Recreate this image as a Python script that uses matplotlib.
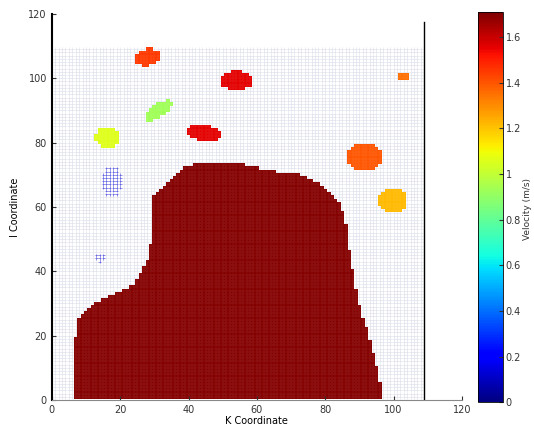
import numpy as np
import matplotlib
matplotlib.use('Agg')
import matplotlib.pyplot as plt
from matplotlib.path import Path

# computational grid (K, I node counts)
k_nodes = np.arange(1, 109)
i_nodes = np.arange(1, 110)

# outline of the main high-velocity zone (K, I)
main_k = [6, 6.4, 8.2, 14, 19.9, 24.3, 28, 29.2, 29.2, 33, 38.9, 43.3, 55, 62.3,
          72.5, 78.4, 83.6, 85.7, 87, 89.5, 93, 96, 96.8]
main_i = [0.5, 17, 26, 31, 33.5, 36, 43.5, 50, 62, 67, 72, 73.6, 73.6, 71.4,
          70, 67, 62, 57.5, 46.6, 31, 18.6, 6, 0.5]
main_vel = 1.7

# smaller pockets: centre, half-widths, tilt (deg), velocity
blob_k = [27.8, 54.0, 31.2, 16.4, 44.7, 103.0, 91.5, 99.7]
blob_i = [106.5, 99.4, 90.0, 81.7, 83.0, 100.3, 75.5, 62.0]
blob_rk = [3.6, 4.7, 4.6, 3.6, 5.0, 1.3, 5.0, 4.0]
blob_ri = [2.6, 2.7, 1.9, 3.3, 2.4, 1.1, 4.4, 3.8]
blob_ang = [15, 0, 35, 0, -10, 0, 0, 0]
blob_vel = [1.45, 1.56, 0.93, 1.06, 1.56, 1.35, 1.40, 1.22]

# slow pockets (drawn sparse)
slow_k = [17.5, 14.0]
slow_i = [68.0, 44.4]
slow_rk = [2.8, 1.5]
slow_ri = [5.0, 1.6]
slow_vel = [0.12, 0.12]

v_max = 1.71
cbar_ticks = [0, 0.2, 0.4, 0.6, 0.8, 1, 1.2, 1.4, 1.6]

K, I = np.meshgrid(k_nodes, i_nodes)
K = K.ravel().astype(float)
I = I.ravel().astype(float)
vel = np.full(K.shape, np.nan)

main_path = Path(np.column_stack([main_k, main_i]))
vel[main_path.contains_points(np.column_stack([K, I]))] = main_vel

for ck, ci, rk, ri, ang, v in zip(blob_k, blob_i, blob_rk, blob_ri, blob_ang, blob_vel):
    a = np.radians(ang)
    dk, di = K - ck, I - ci
    u = dk * np.cos(a) + di * np.sin(a)
    w = -dk * np.sin(a) + di * np.cos(a)
    vel[(u / rk) ** 2 + (w / ri) ** 2 <= 1] = v

slow = np.zeros(K.shape, bool)
for ck, ci, rk, ri, v in zip(slow_k, slow_i, slow_rk, slow_ri, slow_vel):
    m = ((K - ck) / rk) ** 2 + ((I - ci) / ri) ** 2 <= 1
    slow |= m
    vel[m] = v

fig = plt.figure(figsize=(5.34, 4.32), dpi=100)
ax = fig.add_axes([0.097, 0.074, 0.768, 0.894])
cax = fig.add_axes([0.895, 0.069, 0.047, 0.903])

bg = np.isnan(vel)
ax.scatter(K[bg], I[bg], s=6, marker='+', c='#e0e2ec', linewidths=0.4)
fast = ~bg & ~slow
sc = ax.scatter(K[fast], I[fast], s=7.5, marker='s', c=vel[fast], cmap='jet',
                vmin=0, vmax=v_max, linewidths=0)
# faint mesh lines over the coloured cells
ax.scatter(K[fast], I[fast], s=6, marker='+', c='white', linewidths=0.3, alpha=0.15)
ax.scatter(K[slow], I[slow], s=5, marker='+', c=vel[slow], cmap='jet',
           vmin=0, vmax=v_max, linewidths=0.5, alpha=0.6)

ax.plot([108.8, 108.8], [0, 117.5], color='black', lw=1)

ax.set_xlim(0, 120)
ax.set_ylim(0, 120)
ax.set_xticks(range(0, 121, 20))
ax.set_yticks(range(0, 121, 20))
ax.spines['top'].set_visible(False)
ax.spines['right'].set_visible(False)
ax.spines['left'].set_linewidth(1.5)
ax.spines['bottom'].set_color('#888888')
ax.tick_params(direction='in', length=3, labelsize=7, colors='#333333')
ax.set_xlabel('K Coordinate', fontsize=7, labelpad=1)
ax.set_ylabel('I Coordinate', fontsize=7, labelpad=6)

cb = fig.colorbar(sc, cax=cax, ticks=cbar_ticks)
cb.ax.set_yticklabels(['0', '0.2', '0.4', '0.6', '0.8', '1', '1.2', '1.4', '1.6'])
cb.ax.tick_params(direction='in', length=3, labelsize=7, colors='#333333', pad=2)
cb.outline.set_linewidth(0.6)
fig.text(0.988, 0.516, 'Velocity (m/s)', rotation=90, fontsize=6.5,
         ha='center', va='center', color='#333333')

fig.savefig('out.png', dpi=100)
